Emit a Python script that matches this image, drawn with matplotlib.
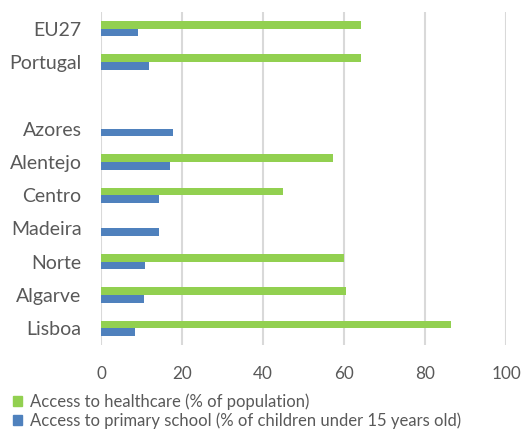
import matplotlib
matplotlib.use("Agg")
import matplotlib.pyplot as plt
import numpy as np
from matplotlib.patches import Patch

categories = ["Lisboa", "Algarve", "Norte", "Madeira", "Centro", "Alentejo", "Azores", "", "Portugal", "EU27"]
healthcare = [86.4, 60.5, 59.9, np.nan, 44.9, 57.3, np.nan, np.nan, 64.0, 64.0]
school = [8.3, 10.5, 10.9, 14.2, 14.2, 17.0, 17.7, np.nan, 11.9, 9.0]
xticks = [0, 20, 40, 60, 80, 100]
labels = ["Access to healthcare (% of population)",
          "Access to primary school (% of children under 15 years old)"]

green = "#92D050"
blue = "#4F81BD"
txt = "#595959"

plt.rcParams['font.family'] = ['Lato', 'DejaVu Sans']

fig = plt.figure(figsize=(5.32, 4.36), dpi=100)
ax = fig.add_axes([0.19, 0.209, 0.762, 0.763])

y = np.arange(len(categories))
h = 0.23
ax.barh(y + h / 2, healthcare, height=h, color=green, zorder=3)
ax.barh(y - h / 2, school, height=h, color=blue, zorder=3)

ax.set_xlim(0, 100)
ax.set_ylim(-0.5, len(categories) - 0.5)
ax.set_xticks(xticks)
ax.set_xticklabels([str(t) for t in xticks])
ax.set_yticks(y)
ax.set_yticklabels(categories)
ax.tick_params(axis='y', length=0, pad=14, labelsize=14, labelcolor=txt)
ax.tick_params(axis='x', length=0, pad=15, labelsize=12.3, labelcolor=txt)
ax.grid(axis='x', color="#d9d9d9", linewidth=1.5, zorder=0)
for s in ax.spines.values():
    s.set_visible(False)

handles = [Patch(color=green), Patch(color=blue)]
fig.legend(handles, labels, loc='center left', bbox_to_anchor=(0.025, 0.057),
           frameon=False, fontsize=12.0, handlelength=0.55, handleheight=0.55,
           handletextpad=0.45, labelspacing=0.15, labelcolor=txt,
           borderaxespad=0, borderpad=0)

fig.savefig("out.png", dpi=100)
